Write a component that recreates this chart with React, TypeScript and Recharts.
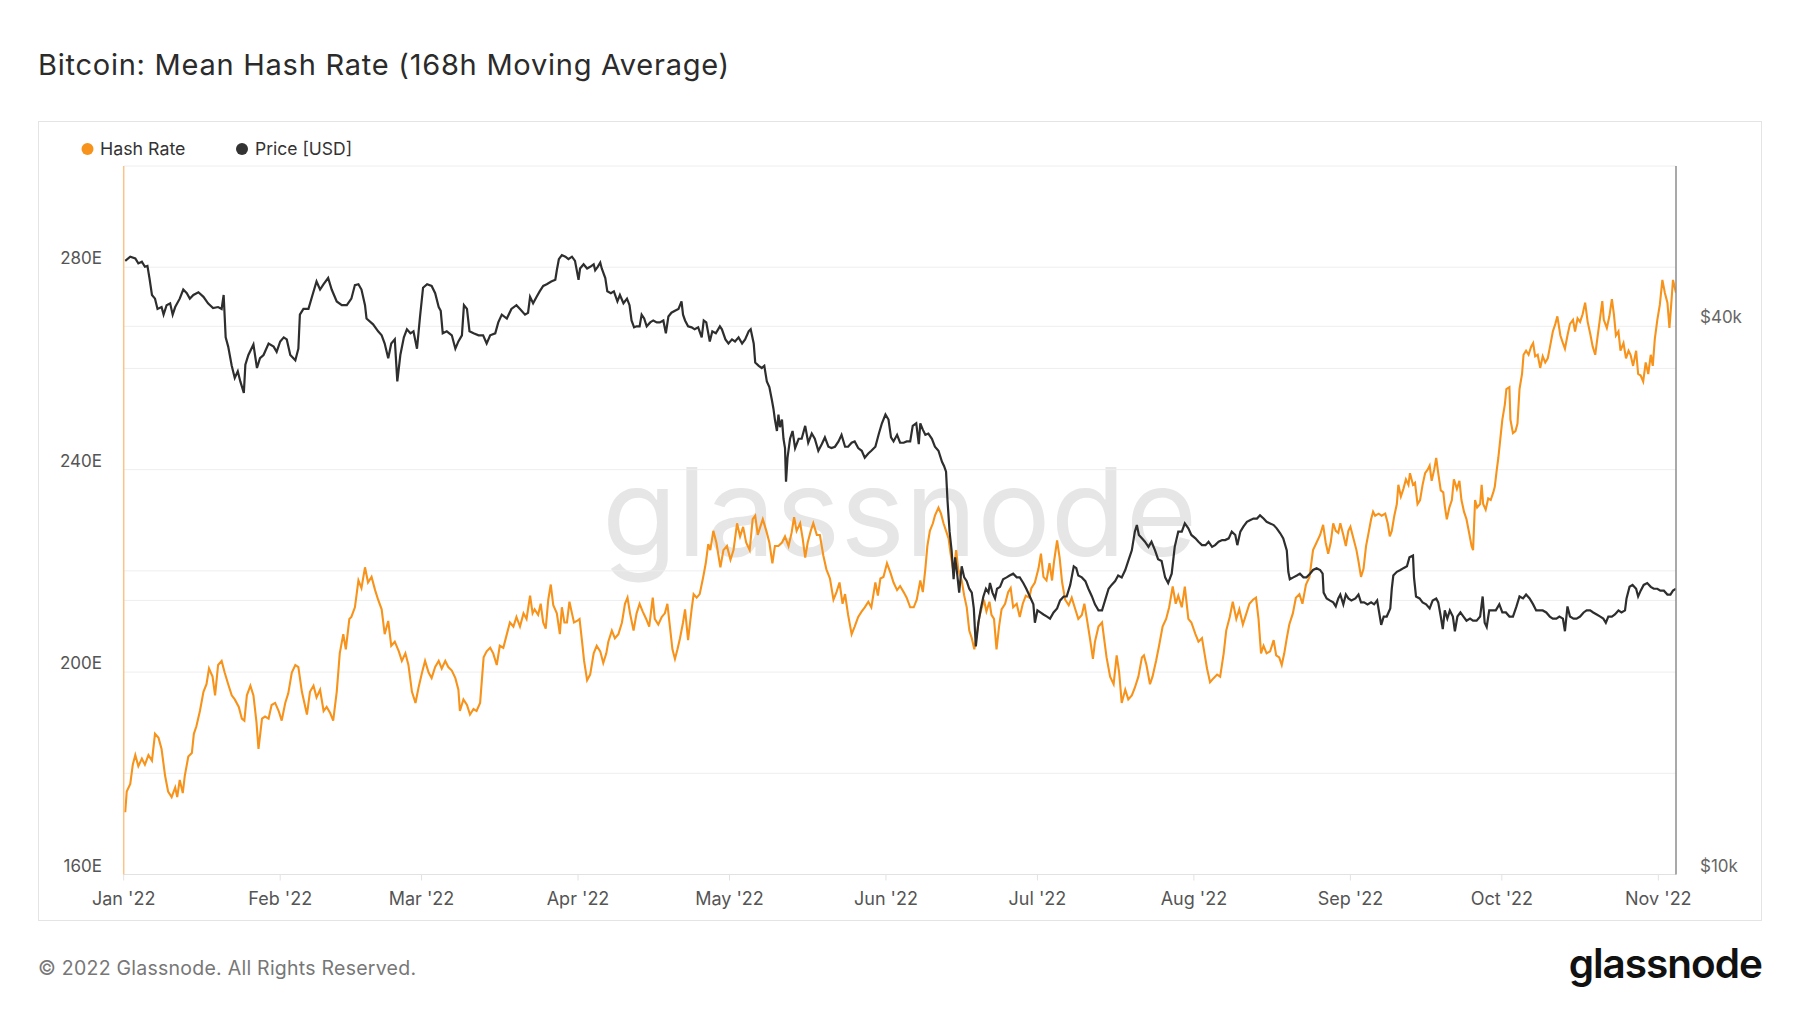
import React from 'react';
import { LineChart, Line, XAxis, YAxis, CartesianGrid, ReferenceLine } from 'recharts';

// [day since 1 Jan 2022, hash rate in EH/s]
const HASH_RATE: [number, number][] = [
[0.3,172.3],[0.6,176.4],[1.3,177.9],[1.8,181.7],[2.3,183.6],[2.9,181.4],[3.6,182.9],[4.2,181.7],[4.9,183.6],[5.6,182.5],[6.2,187.8],[6.9,187.0],[7.5,184.8],[8.2,179.5],[8.8,176.4],[9.5,175.3],[10.2,177.2],[10.6,175.3],[11.1,178.7],[11.7,176.1],[12.1,179.5],[12.8,183.3],[13.5,184.0],[13.9,187.8],[14.4,189.3],[15.1,192.3],[15.8,196.1],[16.4,197.6],[16.9,200.7],[17.6,199.1],[18.1,195.4],[18.7,201.4],[19.4,202.2],[20.0,199.9],[20.7,197.6],[21.4,195.4],[22.0,194.6],[22.8,193.1],[23.4,190.8],[23.9,190.4],[24.4,195.4],[25.1,197.3],[25.7,195.4],[26.3,190.1],[26.7,184.8],[27.4,190.8],[28.0,191.2],[28.7,190.8],[29.3,193.5],[30.0,193.9],[30.7,192.3],[31.3,190.4],[32.0,193.9],[32.6,195.8],[33.3,199.9],[34.0,201.4],[34.6,201.0],[35.3,196.1],[36.3,191.6],[36.9,196.1],[37.6,197.3],[38.2,195.0],[38.9,196.5],[39.6,192.3],[40.2,193.1],[40.9,191.9],[41.5,190.4],[42.2,196.1],[42.8,203.7],[43.5,207.5],[44.0,204.5],[44.7,210.5],[45.1,210.9],[45.8,212.8],[46.5,218.1],[47.1,216.6],[47.8,220.7],[48.4,217.7],[49.1,218.8],[49.8,216.2],[50.4,214.3],[51.1,212.4],[51.7,207.5],[52.4,210.1],[53.0,205.2],[53.7,206.0],[54.5,204.1],[55.1,202.2],[55.8,203.7],[56.4,201.4],[57.1,196.1],[57.8,193.9],[58.4,196.9],[59.1,199.9],[59.7,202.2],[60.4,199.9],[61.0,198.8],[61.7,201.0],[62.4,202.2],[63.0,200.7],[63.7,202.2],[64.3,201.0],[65.0,200.3],[65.7,198.8],[66.3,196.5],[66.6,192.3],[67.3,194.6],[68.0,193.5],[68.6,191.6],[69.3,192.7],[69.9,192.3],[70.6,193.9],[71.3,202.9],[71.9,204.1],[72.6,204.8],[73.2,203.7],[73.9,201.4],[74.5,205.2],[75.2,204.8],[75.9,207.5],[76.5,209.8],[77.2,209.0],[77.8,210.9],[78.5,209.0],[79.2,211.6],[79.8,210.5],[80.5,215.1],
[81.0,211.6],[81.4,212.4],[82.1,211.3],[82.6,213.5],[83.1,209.8],[83.6,208.6],[84.1,214.3],[84.6,217.3],[85.1,213.2],[85.8,211.6],[86.4,207.5],[86.8,212.8],[87.3,209.8],[87.8,209.8],[88.3,213.9],[88.8,211.6],[89.2,209.8],[89.8,210.1],[90.3,210.5],[90.8,206.0],[91.2,202.2],[91.8,198.4],[92.4,199.5],[93.1,203.7],[93.7,205.2],[94.4,204.1],[95.0,201.8],[95.6,203.7],[96.0,206.0],[96.7,208.2],[97.3,206.7],[98.0,207.5],[98.7,209.8],[99.3,213.5],[99.8,214.7],[100.3,211.6],[101.0,208.2],[101.6,211.6],[102.2,213.5],[102.8,212.0],[103.5,210.5],[104.1,209.0],[104.8,214.7],[105.2,210.5],[105.9,209.4],[106.6,210.9],[107.2,211.6],[107.7,213.5],[108.2,209.0],[108.7,204.5],[109.2,202.6],[109.7,204.5],[110.2,206.7],[110.8,209.8],[111.2,212.4],[111.8,206.3],[112.5,212.4],[112.9,215.4],[113.5,214.7],[114.1,215.4],[114.8,218.8],[115.3,221.5],[115.8,225.3],[116.2,224.1],[116.8,227.9],[117.4,225.6],[118.2,220.7],[118.8,224.1],[119.5,224.9],[120.2,222.2],[120.8,224.1],[121.5,229.4],[122.1,226.8],[122.7,228.7],[123.3,225.6],[124.0,224.1],[124.6,230.2],[125.1,230.9],[125.6,227.1],[126.1,228.7],[126.6,230.2],[127.3,227.9],[127.9,225.6],[128.5,221.5],[129.0,224.9],[129.7,224.9],[130.4,225.6],[131.0,226.8],[131.7,224.9],[132.3,227.5],[132.8,230.6],[133.3,227.9],[134.0,229.4],[134.5,226.4],[135.0,222.6],[135.5,225.6],[136.1,227.9],[136.6,229.4],[137.3,227.1],[137.9,227.1],[138.6,223.0],[139.2,220.3],[139.9,218.5],[140.6,214.3],[141.2,215.8],[141.8,217.7],[142.4,213.5],[142.9,215.4],[143.5,211.3],[144.2,207.5],[144.8,209.0],[145.5,210.9],[146.2,212.0],[146.8,212.8],[147.5,213.9],[148.1,212.8],[148.9,217.7],[149.4,215.1],[149.9,218.5],[150.5,218.8],[151.2,221.5],[151.9,219.6],[152.5,217.7],[153.2,216.2],[153.8,217.0],[154.5,215.8],[155.1,214.7],[155.8,212.8],[156.5,212.8],[157.1,214.3],[157.8,218.1],
[158.3,215.8],[158.8,220.4],[159.2,224.9],[159.7,227.9],[160.3,229.4],[160.7,230.9],[161.4,232.5],[161.9,231.3],[162.4,229.4],[162.9,227.9],[163.4,226.4],[163.8,223.4],[164.4,219.6],[164.9,224.1],[165.3,220.4],[166.0,218.1],[166.5,215.1],[167.0,212.8],[167.5,208.2],[168.0,206.7],[168.5,204.5],[169.0,207.5],[169.5,210.9],[170.0,212.8],[170.4,214.3],[170.9,212.0],[171.5,213.9],[171.9,211.3],[172.4,210.5],[172.9,204.5],[173.4,209.0],[173.9,212.4],[174.6,213.5],[175.2,215.8],[175.7,216.6],[176.2,212.8],[176.9,213.5],[177.5,210.9],[178.1,213.5],[178.7,215.1],[179.4,214.7],[179.8,216.6],[180.5,217.7],[181.2,220.4],[181.7,223.4],[182.2,218.8],[182.8,218.1],[183.4,221.5],[183.9,218.1],[184.3,221.9],[184.9,226.0],[185.4,222.6],[185.9,217.7],[186.5,214.3],[187.2,213.2],[187.8,214.7],[188.5,212.4],[189.1,210.5],[189.8,211.3],[190.3,213.5],[190.8,210.5],[191.4,206.7],[192.0,202.6],[192.4,206.0],[193.1,209.0],[193.8,209.8],[194.2,206.7],[194.7,202.9],[195.4,199.1],[196.1,197.6],[196.7,203.3],[197.2,199.9],[197.7,193.9],[198.4,196.5],[199.0,194.6],[199.7,195.4],[200.3,196.9],[201.0,199.1],[201.7,202.9],[202.1,203.3],[202.6,201.4],[203.3,197.6],[203.8,199.1],[204.5,202.2],[205.1,205.2],[205.8,209.0],[206.5,210.5],[207.1,212.8],[207.8,216.9],[208.4,213.5],[208.9,215.1],[209.6,212.8],[210.2,216.9],[210.9,210.5],[211.5,209.8],[212.3,207.5],[212.9,206.0],[213.6,206.7],[214.1,203.7],[214.6,200.7],[215.2,198.0],[215.9,198.8],[216.6,199.5],[217.2,199.1],[217.9,203.7],[218.4,208.2],[219.1,210.9],[219.7,213.9],[220.4,210.5],[221.0,212.4],[221.7,209.4],[222.4,211.6],[223.0,213.5],[223.7,214.3],[224.3,214.7],[224.8,210.5],[225.3,203.7],[225.8,205.2],[226.4,203.7],[227.1,204.1],[227.8,206.3],[228.3,203.3],[228.9,202.9],[229.4,201.4],[229.9,203.7],[230.4,206.7],[230.9,209.4],[231.6,211.6],[232.2,214.7],[232.9,215.4],[233.5,213.5],[234.2,217.3],[234.9,218.8],
[235.6,224.1],[236.3,225.6],[237.0,227.1],[237.6,229.1],[238.1,225.6],[238.6,223.4],[239.1,225.6],[239.6,229.4],[240.1,227.9],[240.6,227.5],[241.0,229.4],[241.6,227.1],[242.1,224.9],[242.6,227.9],[243.0,228.7],[243.5,226.8],[244.2,224.1],[244.6,221.9],[245.1,218.8],[245.6,220.4],[246.1,224.9],[246.6,227.5],[247.1,230.2],[247.5,231.7],[247.9,230.9],[248.6,231.3],[249.2,230.9],[249.9,231.3],[250.4,229.4],[250.8,226.8],[251.2,227.9],[251.7,230.9],[252.2,233.2],[252.5,237.0],[253.0,234.7],[253.5,236.2],[254.0,238.1],[254.5,237.0],[254.8,239.3],[255.4,237.0],[255.8,237.4],[256.3,233.2],[256.8,234.0],[257.3,237.0],[257.8,239.3],[258.3,240.0],[258.7,240.8],[259.1,237.8],[259.6,240.0],[260.0,242.3],[260.4,239.3],[260.9,235.9],[261.4,235.5],[261.7,232.8],[262.1,230.2],[262.6,232.5],[263.1,234.0],[263.5,238.1],[264.1,236.2],[264.6,237.8],[265.0,234.0],[265.5,231.7],[266.0,230.2],[266.6,227.1],[267.0,224.9],[267.3,224.1],[267.7,234.0],[268.1,232.5],[268.7,233.2],[269.0,237.0],[269.3,233.2],[269.8,232.1],[270.3,234.3],[270.8,234.0],[271.3,235.5],[271.6,236.6],[272.0,240.0],[272.3,242.3],[272.7,246.1],[273.1,249.9],[273.6,252.9],[273.9,255.9],[274.5,256.3],[274.7,249.9],[275.2,247.2],[275.7,247.6],[276.1,249.1],[276.5,255.9],[277.0,258.9],[277.3,262.7],[277.8,263.5],[278.3,262.7],[278.8,264.3],[279.2,265.0],[279.6,262.4],[280.1,262.7],[280.6,260.1],[281.1,262.4],[281.6,261.2],[282.1,262.0],[282.6,264.6],[283.1,267.3],[283.6,268.8],[284.0,270.3],[284.6,266.5],[285.1,265.0],[285.5,263.9],[286.0,266.5],[286.5,268.8],[287.1,269.6],[287.5,267.3],[288.0,269.9],[288.5,269.2],[289.0,270.7],[289.5,273.0],[290.0,269.2],[290.5,266.9],[291.0,264.3],[291.5,262.7],[291.9,265.8],[292.5,270.3],[292.9,273.3],[293.2,269.6],[293.8,268.0],[294.3,270.3],[294.8,273.7],[295.2,270.7],[295.6,266.5],[296.1,267.3],[296.5,263.5],[297.1,265.0],[297.6,262.0],[298.1,263.5],[298.5,262.7],[299.0,260.5],[299.6,263.5],[300.0,258.9],[300.5,258.6],[301.0,257.4],[301.5,261.2],[302.0,258.9],[302.5,262.7],[302.9,260.5],[303.3,265.8],[303.8,269.6],[304.3,272.6],[304.8,277.5],[305.3,274.9],[305.8,273.0],[306.2,268.0],[306.6,273.3],[306.9,277.5],[307.5,274.9]
];

// [day since 1 Jan 2022, BTC price in USD]
const PRICE_USD: [number, number][] = [
[0.3,47200],[1.3,47700],[2.3,47500],[2.9,46900],[3.6,47100],[4.2,46500],[4.7,46600],[5.1,45200],[5.6,43300],[6.2,42900],[6.7,41800],[7.5,42000],[7.9,41200],[8.5,42200],[9.2,42400],[9.7,41200],[10.2,42000],[11.1,42900],[11.8,43900],[12.5,43500],[13.1,42900],[13.8,43300],[14.8,43600],[15.8,43100],[16.7,42400],[17.7,41900],[18.7,42000],[19.4,41800],[19.8,43300],[20.2,38900],[20.7,38000],[21.4,36200],[22.0,35100],[22.6,35700],[23.1,34800],[23.8,33800],[24.1,36300],[24.7,37200],[25.7,38200],[26.4,36000],[27.0,36900],[27.7,37200],[28.7,38300],[29.7,38000],[30.3,37500],[31.0,38500],[31.7,38900],[32.3,38700],[33.0,37200],[34.0,36700],[34.6,37800],[34.9,41200],[35.6,41800],[36.6,41800],[37.3,43100],[38.2,44800],[38.9,43900],[39.6,44500],[40.5,45200],[41.2,43900],[42.2,42600],[43.2,42200],[44.2,42200],[45.1,42900],[45.8,44400],[46.5,44500],[47.1,43900],[47.8,42200],[48.1,40800],[49.4,40200],[50.4,39500],[51.1,39100],[51.7,38300],[52.4,36900],[53.0,38300],[53.7,38700],[54.2,34800],[54.8,37200],[55.5,38900],[56.1,39700],[56.8,39300],[57.4,39500],[58.1,37800],[58.7,41000],[59.3,44100],[60.1,44500],[61.0,44300],[61.7,43500],[62.4,42000],[62.8,41600],[63.2,39300],[64.0,39500],[65.0,39100],[65.7,37800],[66.3,38500],[67.0,39100],[67.4,42200],[68.0,41800],[68.5,39500],[69.3,39300],[70.3,39100],[71.2,39100],[71.9,38300],[72.6,39100],[73.6,39300],[74.2,40400],[74.9,41200],[75.9,40800],[76.8,41800],[77.8,42200],[78.5,41800],[79.5,41200],[80.1,41400],[80.5,43100],
[81.1,42400],[81.8,43100],[82.4,43700],[83.1,44300],[83.8,44500],[84.7,44800],[85.5,45000],[85.8,46100],[86.2,47400],[86.8,47900],[87.5,47700],[88.1,47400],[88.8,47700],[89.4,47200],[90.1,45000],[90.4,46300],[91.1,46800],[91.8,46300],[92.4,46500],[93.1,46800],[93.4,46100],[93.9,46500],[94.4,47000],[94.7,46300],[95.4,45200],[95.8,43700],[96.5,43500],[97.1,43700],[97.8,42600],[98.3,43300],[99.0,42400],[99.7,42900],[100.2,42200],[100.6,40600],[101.1,39900],[101.6,40000],[102.2,40000],[102.6,41200],[103.1,40800],[103.6,40000],[104.3,40400],[104.9,40600],[105.6,40400],[106.2,40400],[106.9,40600],[107.4,39300],[107.9,41000],[108.5,41400],[109.2,41600],[109.9,41800],[110.5,42600],[110.8,41200],[111.2,40600],[111.8,40000],[112.5,39900],[113.1,39700],[113.8,39900],[114.5,38900],[114.9,40600],[115.4,40400],[116.1,38500],[116.6,39500],[117.3,39300],[118.1,40000],[118.5,39700],[119.2,38700],[119.8,38300],[120.5,38700],[121.1,38500],[121.8,38900],[122.5,38300],[123.1,38700],[123.8,39500],[124.2,39700],[124.8,38300],[125.1,36500],[125.8,36200],[126.4,36000],[126.9,36200],[127.4,34800],[127.9,34300],[128.4,33200],[128.7,32500],[129.0,31600],[129.4,30700],[129.7,32000],[130.0,31000],[130.4,31600],[130.7,30100],[131.0,29400],[131.2,27000],[131.5,28700],[132.0,30100],[132.5,30700],[133.0,29400],[133.7,30100],[134.3,30100],[135.0,31100],[135.6,29800],[136.3,30500],[136.9,30100],[137.6,29200],[138.3,29700],[138.9,30200],[139.6,29500],[140.2,29400],[140.9,29500],[141.6,29900],[142.2,30400],[142.9,29500],[143.5,29500],[144.2,29800],[144.8,29900],[145.5,29400],[146.2,29200],[146.8,28700],[147.5,29000],[148.1,29200],[148.9,29500],[149.6,30500],[150.2,31300],[150.9,32000],[151.5,31600],[152.0,30200],[152.5,29900],[153.2,30400],[153.8,29800],[154.5,29800],[155.1,29900],[155.8,29900],[156.3,31100],[157.0,31300],[157.5,29700],
[157.8,31300],[158.3,30800],[158.8,30400],[159.4,30500],[160.1,30100],[160.7,29500],[161.4,29200],[162.1,28400],[162.5,28100],[162.9,27700],[163.2,25700],[163.6,23800],[164.0,22700],[164.4,21100],[164.7,22300],[165.1,21400],[165.5,20400],[166.0,21800],[166.5,21200],[167.0,21000],[167.5,20600],[168.0,20400],[168.4,19600],[168.8,17800],[169.3,18900],[169.8,19600],[170.3,20200],[170.8,20600],[171.3,20400],[171.6,20900],[172.1,20400],[172.6,20100],[173.0,20600],[173.6,20700],[174.2,21100],[174.9,21200],[175.5,21300],[176.2,21400],[176.9,21200],[177.5,21200],[178.2,20900],[178.8,20600],[179.5,20200],[180.2,19800],[180.5,18900],[181.0,19500],[181.6,19400],[182.2,19300],[182.9,19200],[183.5,19100],[184.2,19400],[184.9,19600],[185.5,20000],[186.2,20200],[186.8,20200],[187.5,20800],[188.2,21800],[188.7,21700],[189.1,21300],[189.8,21200],[190.5,21000],[191.1,20600],[191.8,20200],[192.4,19800],[193.1,19500],[193.8,19500],[194.4,20000],[195.1,20600],[195.7,20800],[196.4,21000],[197.0,21300],[197.7,21200],[198.4,21600],[199.0,22100],[199.7,22700],[200.3,23800],[200.7,24200],[201.1,23600],[201.7,23400],[202.3,23200],[203.0,22900],[203.6,23200],[204.3,22700],[204.9,22200],[205.6,22100],[206.3,21200],[206.9,20900],[207.6,21400],[208.2,22900],[208.9,23800],[209.6,23800],[210.2,24300],[210.9,24000],[211.5,23600],[212.3,23400],[212.9,23200],[213.6,23000],[214.3,23000],[214.9,23200],[215.6,22900],[216.2,23000],[216.9,23200],[217.6,23300],[218.2,23300],[218.9,23400],[219.5,23800],[220.2,23600],[220.6,23000],[221.2,23800],[221.8,24100],[222.5,24400],[223.1,24500],[223.8,24600],[224.5,24600],[225.1,24800],[225.8,24600],[226.4,24400],[227.1,24300],[227.8,24200],[228.4,24000],[229.1,23700],[229.7,23400],[230.4,22700],[230.7,21500],[231.0,21100],[231.7,21200],[232.4,21300],[233.0,21400],[233.7,21200],[234.3,21200],[235.0,21400],
[235.6,21600],[236.3,21700],[237.0,21600],[237.5,21400],[237.7,20400],[238.3,20100],[238.9,20000],[239.6,19900],[240.1,19700],[240.6,20100],[241.0,20300],[241.6,19800],[242.1,20300],[242.6,20100],[243.2,20000],[244.0,20100],[244.6,20300],[245.1,19900],[245.7,19900],[246.4,19800],[247.1,19900],[247.7,19800],[248.3,20000],[248.7,19400],[249.1,18800],[249.6,19200],[250.2,19200],[250.9,19600],[251.2,20600],[251.5,21300],[252.2,21500],[252.9,21600],[253.5,21700],[254.2,21800],[254.7,22300],[255.4,22400],[255.6,21200],[256.0,20200],[256.7,20100],[257.3,19900],[258.0,19800],[258.7,19600],[259.3,20000],[260.0,20100],[260.4,19900],[260.9,19200],[261.3,18600],[261.7,19500],[262.2,19100],[262.7,19500],[263.3,19200],[263.7,18500],[264.2,19200],[264.8,19400],[265.4,19200],[266.0,19000],[266.7,19100],[267.3,19000],[268.0,19000],[268.7,19200],[269.2,20200],[269.6,18900],[270.0,18700],[270.5,19500],[271.2,19500],[271.8,19500],[272.5,19800],[273.1,19400],[273.8,19400],[274.5,19200],[275.2,19200],[275.9,19700],[276.5,20200],[277.2,20100],[277.8,20300],[278.5,20100],[279.2,19800],[279.8,19500],[280.5,19500],[281.1,19500],[281.8,19400],[282.5,19200],[283.1,19100],[283.8,19100],[284.4,19200],[285.1,19100],[285.5,18500],[286.0,19700],[286.5,19200],[287.2,19100],[287.8,19100],[288.5,19200],[289.2,19400],[289.8,19500],[290.5,19500],[291.1,19400],[291.8,19300],[292.5,19200],[293.1,19100],[293.6,18900],[294.1,19200],[294.8,19200],[295.4,19300],[296.1,19500],[296.7,19400],[297.4,19500],[297.7,20100],[298.3,20700],[298.9,20800],[299.6,20600],[300.0,20200],[300.5,20500],[301.1,20800],[301.8,20900],[302.5,20700],[303.1,20600],[303.8,20600],[304.4,20500],[305.1,20500],[305.8,20300],[306.4,20300],[306.9,20500],[307.5,20600]
];

const MONTH_TICKS = [0, 31, 59, 90, 120, 151, 181, 212, 243, 273, 304];
const MONTH_LABELS = ["Jan '22", "Feb '22", "Mar '22", "Apr '22", "May '22", "Jun '22", "Jul '22", "Aug '22", "Sep '22", "Oct '22", "Nov '22"];
const HASH_TICKS = [160, 180, 200, 220, 240, 260, 280, 300];
const HASH_LABELS: Record<number, string> = { 160: '160E', 200: '200E', 240: '240E', 280: '280E' };
const PRICE_TICKS = [10000, 20000, 40000];
const PRICE_LABELS: Record<number, string> = { 10000: '$10k', 40000: '$40k' };
const PRICE_GRID = [20000, 40000];

const hashData = HASH_RATE.map(([day, v]) => ({ day, hash: v }));
const priceData = PRICE_USD.map(([day, v]) => ({ day, price: v }));

const FONT = 'Inter, "Noto Sans", sans-serif';
const ORANGE = '#f7931a';
const DARK = '#2e2e2e';

const XTick = (props: any) => {
  const { x, payload } = props;
  const i = MONTH_TICKS.indexOf(payload.value);
  return (
    <text x={x} y={905} textAnchor="middle" fontSize={18} fill="#555" fontFamily={FONT}>
      {i >= 0 ? MONTH_LABELS[i] : ''}
    </text>
  );
};

const LeftTick = (props: any) => {
  const { y, payload } = props;
  const label = HASH_LABELS[payload.value];
  if (!label) return <g />;
  return (
    <text x={102} y={y - 3} textAnchor="end" fontSize={17} fill="#555" fontFamily={FONT}>
      {label}
    </text>
  );
};

const RightTick = (props: any) => {
  const { y, payload } = props;
  const label = PRICE_LABELS[payload.value];
  if (!label) return <g />;
  return (
    <text x={1700} y={y - 3} textAnchor="start" fontSize={17} fill="#666" fontFamily={FONT}>
      {label}
    </text>
  );
};

export default function App() {
  return (
    <div style={{ position: 'absolute', left: 0, top: 0, width: 1800, height: 1013, background: '#fff', fontFamily: FONT }}>
      <div style={{ position: 'absolute', left: 38, top: 121, width: 1724, height: 800, border: '1px solid #e4e4e4', boxSizing: 'border-box' }} />
      <svg width={1800} height={1013} style={{ position: 'absolute', left: 0, top: 0 }}>
        <text x={899.5} y={556} textAnchor="middle" fontSize={122.5} fill="#e6e6e6" fontFamily={FONT}>glassnode</text>
      </svg>
      <div style={{ position: 'absolute', left: 0, top: 0 }}>
        <LineChart width={1800} height={1013} margin={{ top: 166, right: 0, bottom: 98.5, left: 0 }}>
          <CartesianGrid vertical={false} stroke="#eeeeee" />
          <XAxis
            dataKey="day"
            type="number"
            domain={[0, 307.5]}
            ticks={MONTH_TICKS}
            allowDataOverflow
            height={40}
            axisLine={{ stroke: '#e2e2e2' }}
            tickLine={{ stroke: '#e2e2e2' }}
            tickSize={6}
            tick={XTick}
            interval={0}
          />
          <YAxis
            orientation="left"
            width={123.7}
            domain={[160, 300]}
            ticks={HASH_TICKS}
            allowDataOverflow
            axisLine={{ stroke: '#f9c48a', strokeWidth: 1.5 }}
            tickLine={false}
            tick={LeftTick}
            interval={0}
          />
          <YAxis
            yAxisId="price"
            orientation="right"
            width={124}
            scale="log"
            domain={[10000, 60000]}
            ticks={PRICE_TICKS}
            allowDataOverflow
            axisLine={{ stroke: '#8c8c8c', strokeWidth: 1.5 }}
            tickLine={false}
            tick={RightTick}
            interval={0}
          />
          {PRICE_GRID.map((v) => (
            <ReferenceLine key={v} yAxisId="price" y={v} stroke="#eeeeee" />
          ))}
          <Line data={hashData} dataKey="hash" type="linear" stroke={ORANGE} strokeWidth={2.1} dot={false} isAnimationActive={false} />
          <Line yAxisId="price" data={priceData} dataKey="price" type="linear" stroke={DARK} strokeWidth={2.2} dot={false} isAnimationActive={false} />
        </LineChart>
      </div>
      <svg width={1800} height={1013} style={{ position: 'absolute', left: 0, top: 0, pointerEvents: 'none' }}>
        <text x={38} y={74.5} fontSize={29} fontWeight={400} letterSpacing={0.75} fill="#2b2b2b" fontFamily={FONT}>Bitcoin: Mean Hash Rate (168h Moving Average)</text>
        <circle cx={87.5} cy={149} r={6} fill={ORANGE} />
        <text x={100} y={155} fontSize={17.8} fill="#333" fontFamily={FONT}>Hash Rate</text>
        <circle cx={242} cy={149} r={6} fill="#333" />
        <text x={255} y={155} fontSize={17.5} fill="#333" fontFamily={FONT}>Price [USD]</text>
        <text x={38} y={975} fontSize={19.5} letterSpacing={0.25} fill="#777" fontFamily={FONT}>© 2022 Glassnode. All Rights Reserved.</text>
        <text x={1762} y={978} textAnchor="end" fontSize={40.5} fontWeight={600} letterSpacing={-1} fill="#111" fontFamily={FONT}>glassnode</text>
      </svg>
    </div>
  );
}
